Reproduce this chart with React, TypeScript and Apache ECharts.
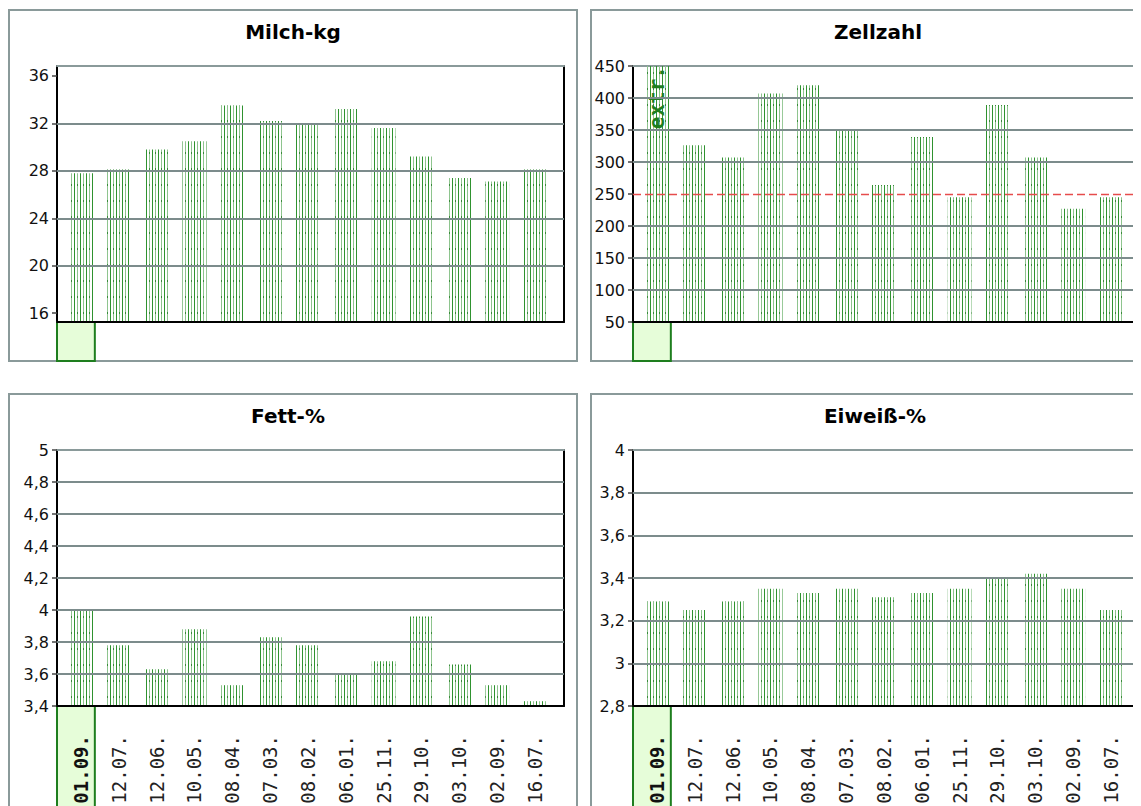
import React, { useEffect, useRef } from 'react';
import * as echarts from 'echarts';

// ---- data ----
const DATES = ['01.09.', '12.07.', '12.06.', '10.05.', '08.04.', '07.03.', '08.02.', '06.01.', '25.11.', '29.10.', '03.10.', '02.09.', '16.07.'];

const MILCH = [27.8, 28.1, 29.8, 30.5, 33.5, 32.2, 31.9, 33.2, 31.6, 29.2, 27.4, 27.1, 28.1];
const MILCH_TICKS = [16, 20, 24, 28, 32, 36];
const MILCH_GRID = [20, 24, 28, 32];

const ZELL = [450, 326, 307, 407, 420, 351, 264, 339, 245, 389, 307, 227, 245];
const ZELL_EXTR = [true, false, false, false, false, false, false, false, false, false, false, false, false];
const ZELL_TICKS = [50, 100, 150, 200, 250, 300, 350, 400, 450];
const ZELL_GRID = [100, 150, 200, 300, 350, 400];
const ZELL_LIMIT = 250;

const FETT = [4.0, 3.78, 3.63, 3.88, 3.53, 3.83, 3.78, 3.6, 3.68, 3.96, 3.66, 3.53, 3.43];
const FETT_TICKS = [3.4, 3.6, 3.8, 4.0, 4.2, 4.4, 4.6, 4.8, 5.0];
const FETT_GRID = [3.6, 3.8, 4.0, 4.2, 4.4, 4.6, 4.8];

const EIWEISS = [3.29, 3.25, 3.29, 3.35, 3.33, 3.35, 3.31, 3.33, 3.35, 3.4, 3.42, 3.35, 3.25];
const EIWEISS_TICKS = [2.8, 3.0, 3.2, 3.4, 3.6, 3.8, 4.0];
const EIWEISS_GRID = [3.0, 3.2, 3.4, 3.6, 3.8];

// ---- layout ----
const BAND = 37.83; // px per category
const XMIN = -24 / BAND; // bar centre sits 24px right of the axis

const fmtComma = (v: number) => String(Math.round(v * 10) / 10).replace('.', ',');
const fmtInt = (v: number) => String(Math.round(v));

function makePattern() {
  const c = document.createElement('canvas');
  c.width = 6;
  c.height = 16;
  const ctx = c.getContext('2d')!;
  ctx.clearRect(0, 0, 6, 16);
  ctx.fillStyle = '#2f922f';
  ctx.fillRect(0, 0, 1, 16);
  ctx.fillStyle = '#8ec48e';
  ctx.fillRect(3, 0, 1, 16);
  ctx.fillStyle = '#3a8a3a';
  ctx.fillRect(3, 0, 1, 2);
  return c;
}

export default function App() {
  const ref = useRef<HTMLDivElement>(null);

  useEffect(() => {
    if (!ref.current) return;
    const chart = echarts.init(ref.current, undefined, { renderer: 'svg' });
    const pattern = makePattern();

    const panels = [
      { title: 'Milch-kg', data: MILCH, yMin: 15.26, yMax: 36.83, ticks: MILCH_TICKS, grid: MILCH_GRID, fmt: fmtInt, left: 49, top: 58, width: 507, dates: false, px: 1, py: 2, pw: 568, ph: 351, tx: 285 },
      { title: 'Zellzahl', data: ZELL, yMin: 50, yMax: 450, ticks: ZELL_TICKS, grid: ZELL_GRID, fmt: fmtInt, left: 625, top: 58, width: 505, dates: false, px: 583, py: 2, pw: 570, ph: 351, tx: 870 },
      { title: 'Fett-%', data: FETT, yMin: 3.4, yMax: 5, ticks: FETT_TICKS, grid: FETT_GRID, fmt: fmtComma, left: 49, top: 442, width: 507, dates: true, px: 1, py: 386, pw: 568, ph: 500, tx: 280 },
      { title: 'Eiweiß-%', data: EIWEISS, yMin: 2.8, yMax: 4, ticks: EIWEISS_TICKS, grid: EIWEISS_GRID, fmt: fmtComma, left: 625, top: 442, width: 505, dates: true, px: 583, py: 386, pw: 570, ph: 500, tx: 867 },
    ];

    const grids: any[] = [];
    const xAxes: any[] = [];
    const yAxes: any[] = [];
    const series: any[] = [];
    const graphics: any[] = [];

    panels.forEach((p, i) => {
      const xMax = XMIN + p.width / BAND;
      grids.push({ left: p.left, top: p.top, width: p.width, height: 256 });
      xAxes.push({
        type: 'value', gridIndex: i, position: 'bottom', min: XMIN, max: xMax, z: 6,
        axisLine: { show: true, onZero: false, lineStyle: { color: '#000', width: 2 } },
        axisTick: { show: false },
        splitLine: { show: false },
        axisLabel: p.dates
          ? {
              show: true,
              customValues: DATES.map((_, k) => k),
              rotate: 90,
              margin: 29,
              fontFamily: 'DejaVu Sans Mono',
              fontSize: 19,
              color: '#222',
              formatter: (v: number) => {
                const k = Math.round(v);
                return k === 0 ? `{b|${DATES[k]}}` : DATES[k];
              },
              rich: { b: { fontFamily: 'DejaVu Sans Mono', fontSize: 19, fontWeight: 'bold', color: '#111' } },
            }
          : { show: false },
      });
      xAxes.push({
        type: 'value', gridIndex: i, position: 'top', min: XMIN, max: xMax,
        axisLine: { show: true, onZero: false, lineStyle: { color: '#8a9a9a', width: 2 } },
        axisTick: { show: false }, axisLabel: { show: false }, splitLine: { show: false },
      });
      yAxes.push({
        type: 'value', gridIndex: i, position: 'left', min: p.yMin, max: p.yMax,
        axisLine: { show: true, onZero: false, lineStyle: { color: '#000', width: 2 } },
        axisTick: { show: true, customValues: p.ticks, length: 5, lineStyle: { color: '#444', width: 1.5 } },
        axisLabel: { show: true, customValues: p.ticks, formatter: p.fmt, margin: 8, fontFamily: 'DejaVu Sans', fontSize: 16, color: '#111' },
        splitLine: { show: false },
      });
      yAxes.push({
        type: 'value', gridIndex: i, position: 'right', min: p.yMin, max: p.yMax,
        axisLine: { show: true, onZero: false, lineStyle: { color: '#000', width: 2 } },
        axisTick: { show: false }, axisLabel: { show: false }, splitLine: { show: false },
      });

      const lines: any[] = p.grid.map((v) => ({ yAxis: v }));
      if (i === 1) {
        lines.push({ yAxis: ZELL_LIMIT, lineStyle: { color: '#e64c4c', type: [8, 4], width: 1.4 } });
      }

      series.push({
        type: 'bar',
        xAxisIndex: 2 * i,
        yAxisIndex: 2 * i,
        barWidth: 24,
        z: 2,
        itemStyle: { color: { image: pattern, repeat: 'repeat' } },
        data: p.data.map((v, k) => {
          if (i === 1 && ZELL_EXTR[k]) {
            return {
              value: [k, v],
              label: {
                show: true, formatter: 'extr.', position: ['50%', 0], rotate: 90, align: 'right', verticalAlign: 'middle',
                fontFamily: 'DejaVu Sans Mono', fontWeight: 'bold', fontSize: 21, color: '#1e7e1e',
              },
            };
          }
          return [k, v];
        }),
        markLine: {
          silent: true,
          symbol: ['none', 'none'],
          label: { show: false },
          lineStyle: { color: '#7c8c8c', width: 2, type: 'solid' },
          data: lines,
        },
      });

      graphics.push({
        id: 'border' + i, type: 'rect', z: 0,
        shape: { x: p.px, y: p.py, width: p.pw, height: p.ph },
        style: { fill: 'none', stroke: '#8a9a9a', lineWidth: 2 },
      });
      graphics.push({
        id: 'title' + i, type: 'text', z: 1,
        x: p.tx, y: p.py + 22,
        style: {
          text: p.title, fill: '#000', font: 'bold 20px "DejaVu Sans"',
          fontFamily: 'DejaVu Sans', fontSize: 20, fontWeight: 'bold',
          align: 'center', verticalAlign: 'middle', textAlign: 'center', textVerticalAlign: 'middle',
        },
      });
    });

    chart.setOption({
      animation: false,
      grid: grids,
      xAxis: xAxes,
      yAxis: yAxes,
      series,
      graphic: { elements: graphics },
    });

    // highlight box under the first (selected) category, located through the axes
    const boxes: any[] = [];
    panels.forEach((p, i) => {
      const x0 = chart.convertToPixel({ xAxisIndex: 2 * i } as any, XMIN) as unknown as number;
      const x1 = chart.convertToPixel({ xAxisIndex: 2 * i } as any, XMIN + 1) as unknown as number;
      const y0 = chart.convertToPixel({ yAxisIndex: 2 * i } as any, p.yMin) as unknown as number;
      const y1 = p.py + p.ph;
      boxes.push({
        id: 'box' + i, type: 'rect', z: 4,
        shape: { x: x0, y: y0, width: x1 - x0, height: y1 - y0 },
        style: { fill: '#e6fdd9', stroke: '#1e7e1e', lineWidth: 2 },
      });
    });
    chart.setOption({ graphic: { elements: boxes } });

    return () => chart.dispose();
  }, []);

  return (
    <div style={{ width: 1133, height: 798, overflow: 'hidden' }}>
      <div ref={ref} style={{ width: 1170, height: 840 }} />
    </div>
  );
}
